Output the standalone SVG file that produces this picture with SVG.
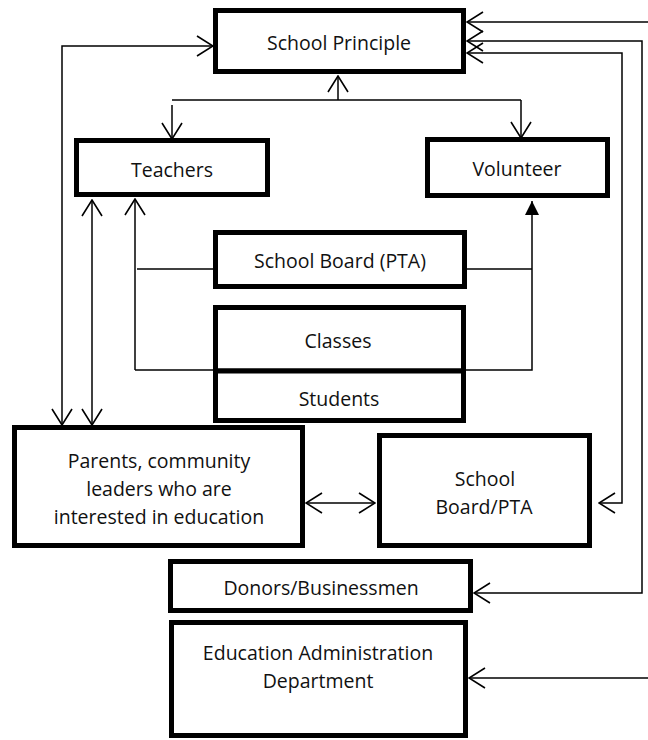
<svg xmlns="http://www.w3.org/2000/svg" width="648" height="740" viewBox="0 0 648 740">
<defs>
<style>
.box{fill:#fff;stroke:#000;stroke-width:5}
.t{font-family:"Open Sans","Noto Sans",sans-serif;font-size:19.5px;fill:#111;text-anchor:middle}
.c{fill:none;stroke:#000;stroke-width:1.5}
.o{marker-end:url(#open)}
.d{marker-start:url(#open);marker-end:url(#open)}
</style>
<marker id="open" viewBox="0 0 18 22" refX="17" refY="11" markerWidth="18" markerHeight="22" markerUnits="userSpaceOnUse" orient="auto-start-reverse">
<path d="M1,1 L17,11 L1,21" fill="none" stroke="#000" stroke-width="1.6"/>
</marker>
<marker id="solid" viewBox="0 0 14 14" refX="14" refY="7" markerWidth="14" markerHeight="14" markerUnits="userSpaceOnUse" orient="auto">
<path d="M0,0 L14,7 L0,14 Z" fill="#000"/>
</marker>
</defs>
<rect width="648" height="740" fill="#fff"/>
<g id="connectors">
<path class="c o" d="M648,22 L467,22"/>
<path class="c d" d="M467,41 L642,41 L642,593 L474,593"/>
<path class="c d" d="M467,53 L622,53 L622,503 L599,503"/>
<path class="c o" d="M648,678 L469,678"/>
<path class="c d" d="M213,46 L62,46 L62,425"/>
<path class="c d" d="M92,200 L92,425"/>
<path class="c" d="M172,100 L521,100"/>
<path class="c o" d="M338,100 L338,76"/>
<path class="c o" d="M172,105 L172,139"/>
<path class="c o" d="M521,100 L521,138"/>
<path class="c o" d="M135,370 L135,199"/>
<path class="c" d="M137,269 L215,269"/>
<path class="c" d="M135,370 L215,370"/>
<path class="c" d="M465,269 L532,269"/>
<path class="c" d="M464,370 L532,370 L532,201" style="marker-end:url(#solid)"/>
<path class="c d" d="M306,503 L375,503"/>
</g>
<g id="school-principle"><rect class="box" x="215.5" y="10.5" width="248" height="61"/><text class="t" x="339" y="50">School Principle</text></g>
<g id="teachers"><rect class="box" x="76.5" y="140.5" width="191" height="54"/><text class="t" x="172" y="177">Teachers</text></g>
<g id="volunteer"><rect class="box" x="427.5" y="139.5" width="180" height="56"/><text class="t" x="517" y="176">Volunteer</text></g>
<g id="school-board-pta"><rect class="box" x="215.5" y="232.5" width="249" height="54"/><text class="t" x="340" y="268">School Board (PTA)</text></g>
<g id="classes"><rect class="box" x="215.5" y="307.5" width="248" height="63.5"/><text class="t" x="338" y="348">Classes</text></g>
<g id="students"><rect class="box" x="215.5" y="371" width="248" height="49.5"/><text class="t" x="339" y="406">Students</text></g>
<g id="parents"><rect class="box" x="14.5" y="427.5" width="288" height="118"/><text class="t" x="159" y="468">Parents, community</text><text class="t" x="159" y="496">leaders who are</text><text class="t" x="159" y="524">interested in education</text></g>
<g id="school-board-pta-2"><rect class="box" x="379.5" y="435.5" width="210" height="110"/><text class="t" x="485" y="486">School</text><text class="t" x="484" y="514">Board/PTA</text></g>
<g id="donors"><rect class="box" x="170.5" y="561.5" width="300" height="49"/><text class="t" x="321" y="595">Donors/Businessmen</text></g>
<g id="education-dept"><rect class="box" x="171.5" y="622.5" width="294" height="113"/><text class="t" x="318" y="660">Education Administration</text><text class="t" x="318" y="688">Department</text></g>
</svg>
